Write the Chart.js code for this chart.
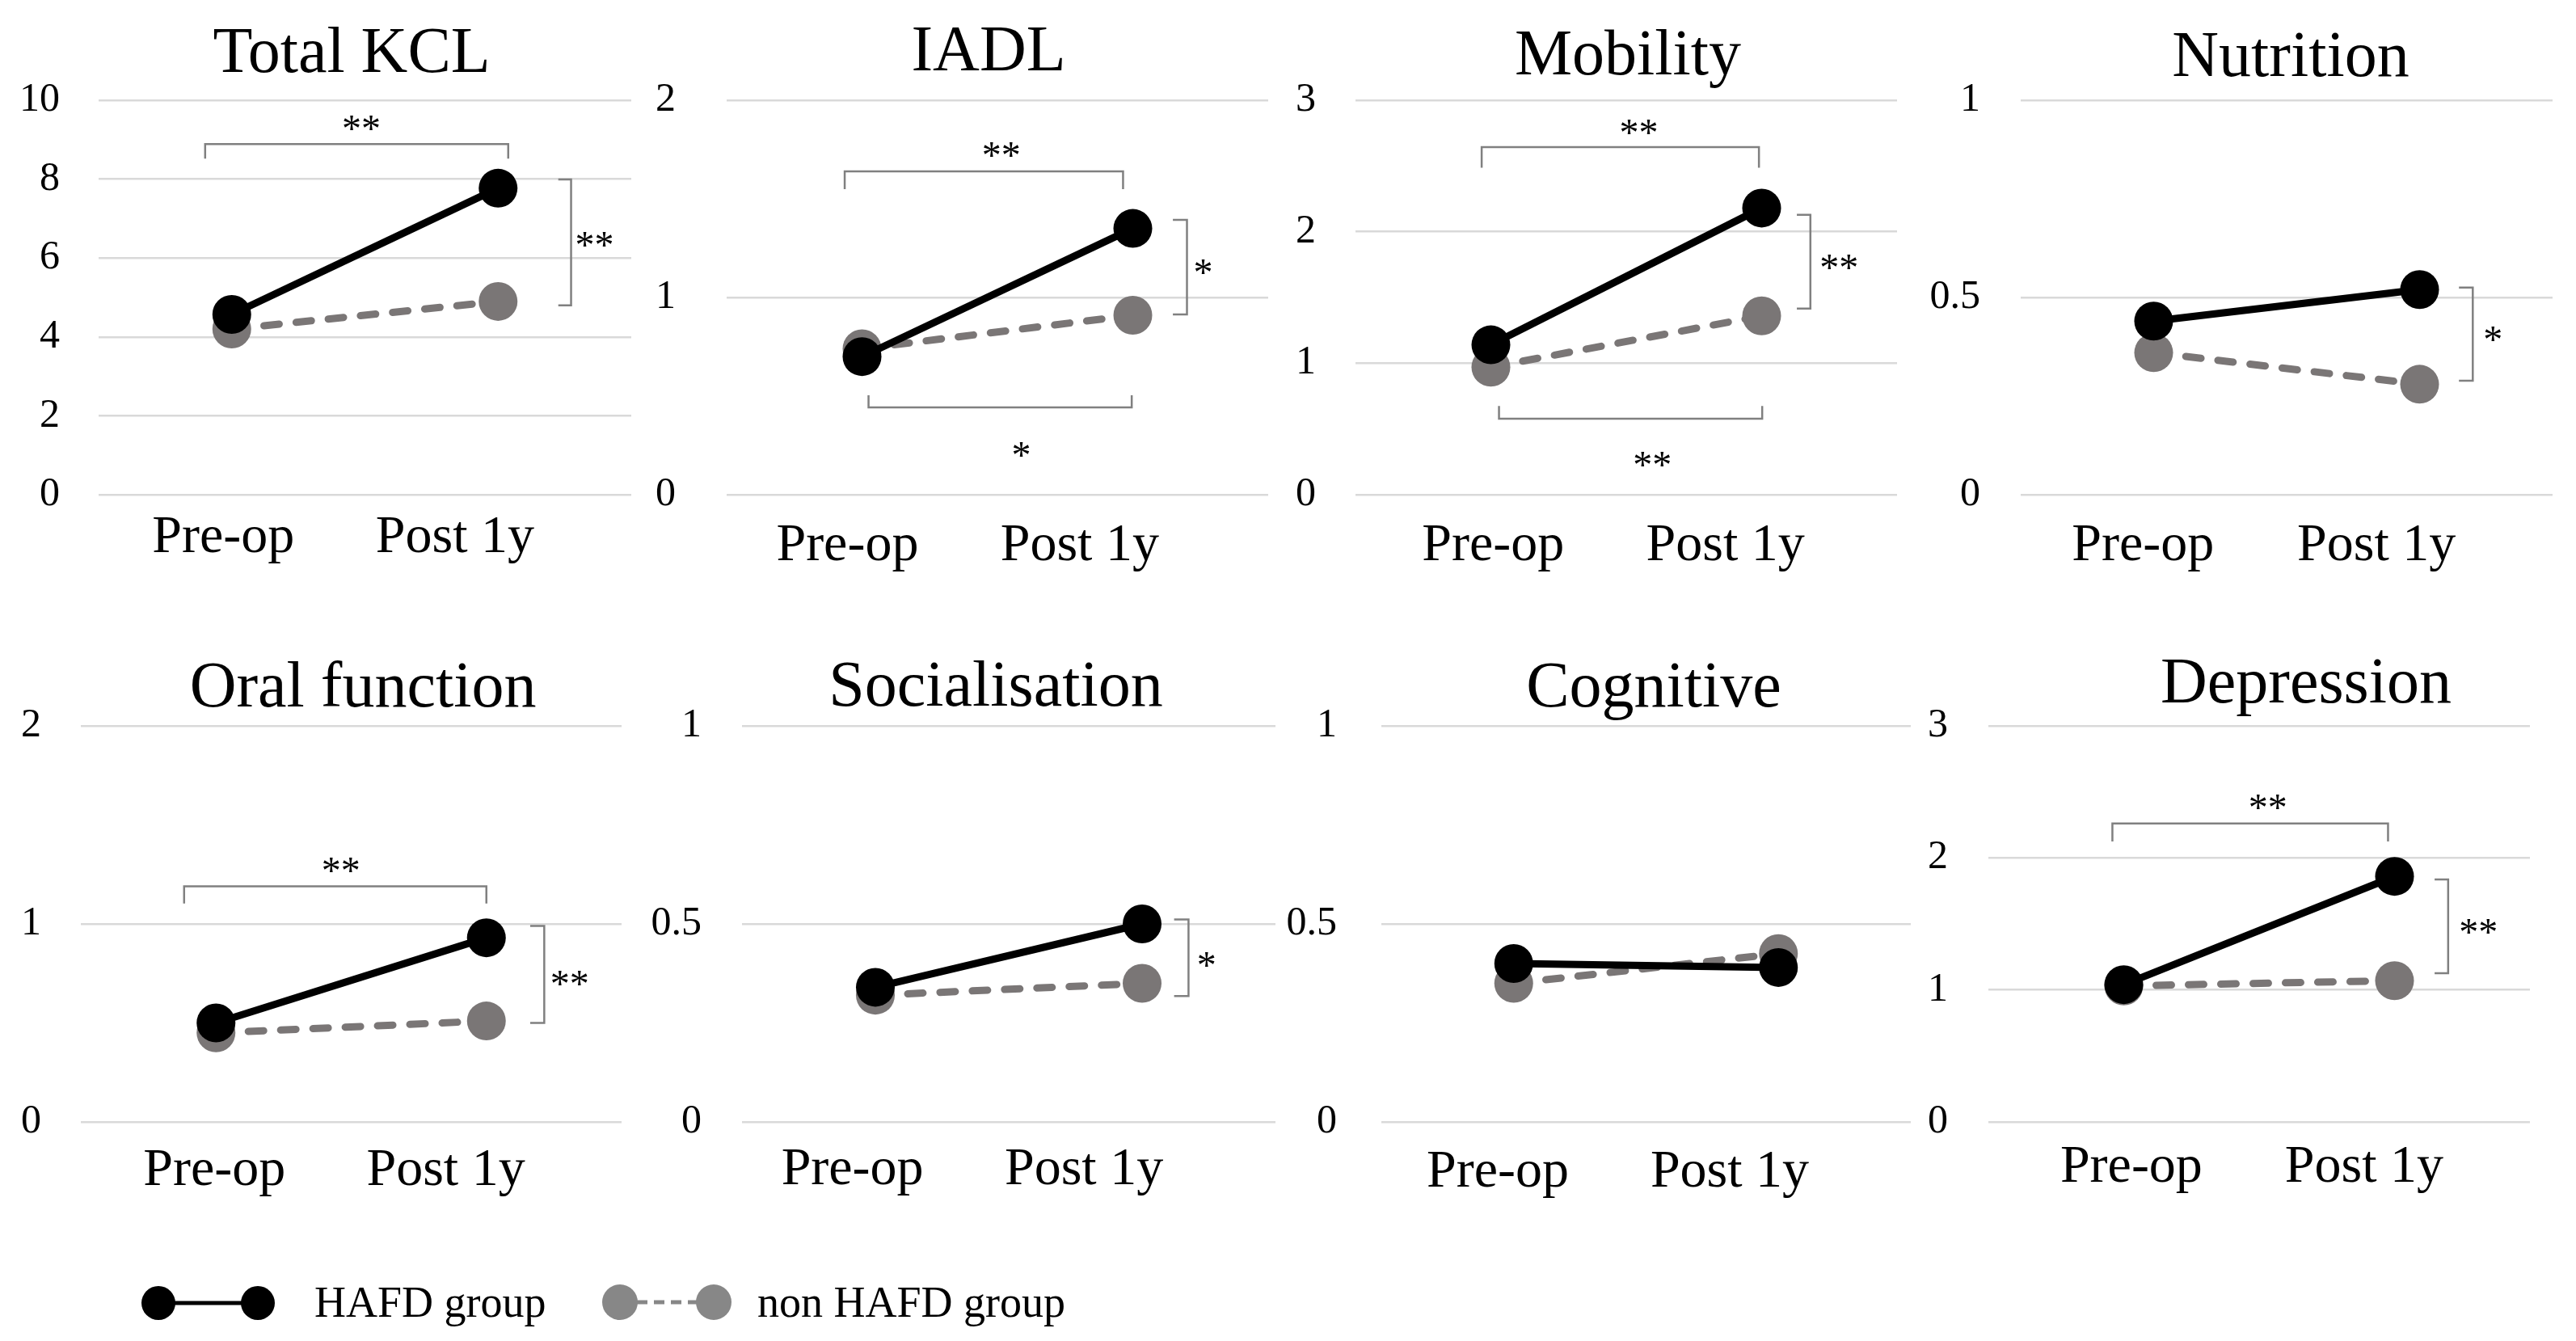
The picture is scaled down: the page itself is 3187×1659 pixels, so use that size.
<!DOCTYPE html>
<html><head><meta charset="utf-8">
<script src="https://cdn.jsdelivr.net/npm/chart.js@4.4.0/dist/chart.umd.min.js"></script>
<style>
html,body{margin:0;padding:0;background:#fff;width:3187px;height:1659px;overflow:hidden;position:relative;}
canvas{position:absolute;}
.leg{position:absolute;font-family:'Liberation Serif','Times New Roman',serif;font-size:54px;color:#000;white-space:nowrap;line-height:1;}
svg{position:absolute;}
</style></head><body>
<script>
// ---------- data ----------
const categories = ['Pre-op', 'Post 1y'];
const panelTitles = ['Total KCL', 'IADL', 'Mobility', 'Nutrition', 'Oral function', 'Socialisation', 'Cognitive', 'Depression'];
const seriesNames = ['HAFD group', 'non HAFD group'];
const hafdGroup = [[4.57, 7.77], [0.70, 1.35], [1.14, 2.18], [0.44, 0.52], [0.50, 0.93], [0.34, 0.50], [0.40, 0.39], [1.04, 1.86]];
const nonHafdGroup = [[4.20, 4.90], [0.74, 0.91], [0.97, 1.36], [0.36, 0.28], [0.45, 0.51], [0.32, 0.35], [0.35, 0.425], [1.03, 1.07]];
const yMax = [10, 2, 3, 1, 2, 1, 1, 3];
const yStep = [2, 1, 1, 0.5, 1, 0.5, 0.5, 1];
// significance marks: kind h = bracket across time points, v = bracket between groups
const sigMarks = [
  {p:0, kind:'h', x1:0.200, x2:0.769, y:8.89, leg:8.52, text:'**', tx:0.493, ty:9.43},
  {p:0, kind:'v', x1:0.863, x2:0.887, y1:7.99, y2:4.80, text:'**', tx:0.931, ty:6.48},
  {p:1, kind:'h', x1:0.218, x2:0.732, y:1.639, leg:1.549, text:'**', tx:0.507, ty:1.75},
  {p:1, kind:'v', x1:0.824, x2:0.850, y1:1.393, y2:0.914, text:'*', tx:0.880, ty:1.156},
  {p:1, kind:'h', x1:0.262, x2:0.748, y:0.443, leg:0.504, text:'*', tx:0.544, ty:0.23},
  {p:2, kind:'h', x1:0.233, x2:0.745, y:2.643, leg:2.486, text:'**', tx:0.523, ty:2.80},
  {p:2, kind:'v', x1:0.815, x2:0.840, y1:2.129, y2:1.415, text:'**', tx:0.893, ty:1.772},
  {p:2, kind:'h', x1:0.265, x2:0.751, y:0.578, leg:0.675, text:'**', tx:0.548, ty:0.27},
  {p:3, kind:'v', x1:0.824, x2:0.850, y1:0.525, y2:0.289, text:'*', tx:0.888, ty:0.408},
  {p:4, kind:'h', x1:0.191, x2:0.750, y:1.19, leg:1.103, text:'**', tx:0.481, ty:1.297},
  {p:4, kind:'v', x1:0.831, x2:0.857, y1:0.99, y2:0.50, text:'**', tx:0.904, ty:0.725},
  {p:5, kind:'v', x1:0.810, x2:0.837, y1:0.511, y2:0.318, text:'*', tx:0.871, ty:0.411},
  {p:7, kind:'h', x1:0.229, x2:0.738, y:2.261, leg:2.125, text:'**', tx:0.516, ty:2.425},
  {p:7, kind:'v', x1:0.824, x2:0.849, y1:1.837, y2:1.127, text:'**', tx:0.905, ty:1.482}
];

// ---------- layout / style ----------
const FONT = "'Liberation Serif','Times New Roman',serif";
const areaBox = [[122,793,124,612],[899,1581,124,612],[1677,2359,124,612],[2500,3170,124,612],
                 [100,781,898,1388],[918,1590,898,1388],[1709,2376,898,1388],[2460,3142,898,1388]];
const rowTop = [0,0,0,0,780,780,780,780];
const tickGap = [48,63,49,50,49,50,55,50];
const titleCX = [435,1223,2014,2834,449,1232,2046,2853];
const titleBase = [89,87,92,94,874,873,874,869];
const labelFrac = [[.234,.669],[.223,.652],[.254,.683],[.23,.669],[.247,.675],[.207,.641],[.22,.658],[.264,.694]];
const labelPad = [6,16,16,16,13,12,15,9];
const Y_W = 120, XL_H = 130, PAD_R = 12;
const GREY = '#7a7676';

const overlay = {
  id: 'overlay',
  afterDraw(chart, args, opts) {
    const i = opts.panel;
    const ctx = chart.ctx;
    const a = chart.chartArea;
    const ys = chart.scales.y;
    const px = f => a.left + f * (a.right - a.left);
    const cl = opts.cl, ct = opts.ct;
    ctx.save();
    ctx.fillStyle = '#000';
    ctx.textAlign = 'center';
    ctx.textBaseline = 'alphabetic';
    ctx.font = '80px ' + FONT;
    ctx.fillText(panelTitles[i], titleCX[i] - cl, titleBase[i] - ct);
    ctx.strokeStyle = '#808080';
    ctx.lineWidth = 2.5;
    sigMarks.filter(m => m.p === i).forEach(m => {
      ctx.beginPath();
      if (m.kind === 'h') {
        const y = ys.getPixelForValue(m.y), l = ys.getPixelForValue(m.leg);
        ctx.moveTo(px(m.x1), l); ctx.lineTo(px(m.x1), y); ctx.lineTo(px(m.x2), y); ctx.lineTo(px(m.x2), l);
      } else {
        const y1 = ys.getPixelForValue(m.y1), y2 = ys.getPixelForValue(m.y2);
        ctx.moveTo(px(m.x1), y1); ctx.lineTo(px(m.x2), y1); ctx.lineTo(px(m.x2), y2); ctx.lineTo(px(m.x1), y2);
      }
      ctx.stroke();
      ctx.font = '48px ' + FONT;
      ctx.fillText(m.text, px(m.tx), ys.getPixelForValue(m.ty) + 23);
    });
    ctx.restore();
  }
};

for (let i = 0; i < 8; i++) {
  const [L, R, T, B] = areaBox[i];
  const cl = L - Y_W, ct = rowTop[i];
  const cw = R - cl + PAD_R, ch = B - ct + XL_H;
  const cv = document.createElement('canvas');
  cv.width = cw; cv.height = ch;
  cv.style.left = cl + 'px'; cv.style.top = ct + 'px';
  cv.style.width = cw + 'px'; cv.style.height = ch + 'px';
  document.body.appendChild(cv);
  new Chart(cv, {
    type: 'line',
    data: {
      labels: categories,
      datasets: [
        {label: seriesNames[0], data: hafdGroup[i], xAxisID:'x', yAxisID:'y',
         borderColor:'#000', backgroundColor:'#000', borderWidth:9,
         pointRadius:24, pointHoverRadius:24, pointBackgroundColor:'#000', pointBorderColor:'#000', pointBorderWidth:0},
        {label: seriesNames[1], data: nonHafdGroup[i], xAxisID:'x', yAxisID:'y',
         borderColor:GREY, backgroundColor:GREY, borderWidth:9, borderDash:[19,21], borderCapStyle:'round',
         pointRadius:24, pointHoverRadius:24, pointBackgroundColor:GREY, pointBorderColor:GREY, pointBorderWidth:0}
      ]
    },
    options: {
      responsive:false, animation:false, devicePixelRatio:1,
      layout: {padding: {top: T - ct, right: PAD_R, left: 0, bottom: 0}},
      plugins: {legend:{display:false}, tooltip:{enabled:false}, title:{display:false},
                overlay:{panel:i, cl:cl, ct:ct}},
      scales: {
        x: {type:'category', display:false, offset:true},
        xl: {type:'linear', position:'bottom', min:0, max:1,
             grid:{display:false}, border:{display:false},
             ticks:{autoSkip:false, maxRotation:0, color:'#000', font:{family:FONT, size:66}, padding:labelPad[i],
                    callback:(v, idx) => categories[idx]},
             afterBuildTicks: s => { s.ticks = labelFrac[i].map(v => ({value:v})); },
             afterFit: s => { s.height = XL_H; }},
        y: {min:0, max:yMax[i],
            ticks:{stepSize:yStep[i], color:'#000', font:{family:FONT, size:50}, padding:tickGap[i],
                   callback: v => String(v)},
            grid:{color:'#d9d9d9', lineWidth:2.5, drawTicks:false},
            border:{display:false},
            afterFit: s => { s.width = Y_W; }}
      }
    },
    plugins: [overlay]
  });
}

// ---------- legend ----------
const svgNS = 'http://www.w3.org/2000/svg';
const svg = document.createElementNS(svgNS, 'svg');
svg.setAttribute('width', '1000'); svg.setAttribute('height', '120');
svg.style.left = '0px'; svg.style.top = '1552px';
svg.innerHTML =
  '<line x1="196" y1="60" x2="319" y2="60" stroke="#000" stroke-width="5"/>' +
  '<circle cx="196" cy="60" r="21" fill="#000"/><circle cx="319" cy="60" r="21" fill="#000"/>' +
  '<line x1="767" y1="59" x2="883" y2="59" stroke="#878787" stroke-width="5" stroke-dasharray="13,8"/>' +
  '<circle cx="767" cy="59" r="22" fill="#878787"/><circle cx="883" cy="59" r="22" fill="#878787"/>';
document.body.appendChild(svg);
[[seriesNames[0], 389], [seriesNames[1], 937]].forEach(([t, x]) => {
  const d = document.createElement('div');
  d.className = 'leg'; d.textContent = t;
  d.style.left = x + 'px'; d.style.top = '1584px';
  document.body.appendChild(d);
});
</script>
</body></html>
